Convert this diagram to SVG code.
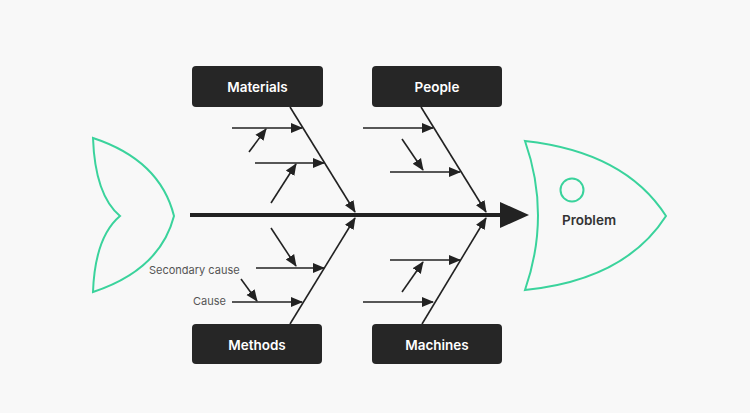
<svg xmlns="http://www.w3.org/2000/svg" width="750" height="413" viewBox="0 0 750 413">
<style>
.box{fill:#262626;}
.lbl{font-family:"Inter","Liberation Sans",sans-serif;font-weight:600;font-size:13.5px;fill:#ffffff;text-anchor:middle;}
.note{font-family:"Inter","Liberation Sans",sans-serif;font-size:11px;fill:#555555;}
.fish{fill:none;stroke:#3ad39c;stroke-width:2;stroke-linejoin:miter;}
.ln{fill:none;stroke:#222222;stroke-width:1.6;marker-end:url(#ah);}
</style>
<defs>
<marker id="ah" markerUnits="userSpaceOnUse" markerWidth="12" markerHeight="12" viewBox="0 0 12 12" refX="11" refY="6" orient="auto">
<path d="M0,1 L12,6 L0,11 Z" fill="#222222"/>
</marker>
</defs>
<rect width="750" height="413" fill="#f8f8f8"/>
<g id="tail"><path class="fish" d="M93,138 Q160,160 174,216 Q160,270 93,292 Q95,237 120,216 Q95,195 93,138 Z"/></g>
<g id="head">
<path class="fish" d="M525,141 Q625,152 666,216 Q625,280 525,290 Q551,215 525,141 Z"/>
<circle cx="572" cy="190" r="11.5" class="fish"/>
<text x="589" y="225" font-family="Inter, 'Liberation Sans', sans-serif" font-weight="600" font-size="13.5" fill="#333333" text-anchor="middle">Problem</text>
</g>
<g id="connectors">
<line x1="190" y1="215" x2="502" y2="215" stroke="#222222" stroke-width="4"/>
<path d="M500,202 L529,215 L500,228 Z" fill="#222222"/>
<line class="ln" x1="290" y1="107" x2="355" y2="212"/>
<line class="ln" x1="421" y1="107" x2="486" y2="212"/>
<line class="ln" x1="290" y1="324" x2="355" y2="218"/>
<line class="ln" x1="422" y1="324" x2="486" y2="218"/>
<line class="ln" x1="232" y1="128" x2="302" y2="128"/>
<line class="ln" x1="255" y1="163" x2="324" y2="163"/>
<line class="ln" x1="249" y1="152" x2="266" y2="129"/>
<line class="ln" x1="271" y1="203" x2="296" y2="164"/>
<line class="ln" x1="363" y1="128" x2="433" y2="128"/>
<line class="ln" x1="390" y1="172" x2="460" y2="172"/>
<line class="ln" x1="402" y1="139" x2="423" y2="170"/>
<line class="ln" x1="256" y1="268" x2="324" y2="268"/>
<line class="ln" x1="232" y1="302" x2="302" y2="302"/>
<line class="ln" x1="271" y1="228" x2="296" y2="266"/>
<line class="ln" x1="241" y1="279" x2="257" y2="301"/>
<line class="ln" x1="390" y1="260" x2="460" y2="260"/>
<line class="ln" x1="363" y1="302" x2="433" y2="302"/>
<line class="ln" x1="402" y1="292" x2="423" y2="262"/>
</g>
<g id="materials"><rect class="box" x="192" y="66" width="131" height="41" rx="4"/><text class="lbl" x="257.5" y="92">Materials</text></g>
<g id="people"><rect class="box" x="372" y="66" width="130" height="41" rx="4"/><text class="lbl" x="437" y="92">People</text></g>
<g id="methods"><rect class="box" x="192" y="324" width="130" height="40" rx="4"/><text class="lbl" x="257" y="350">Methods</text></g>
<g id="machines"><rect class="box" x="372" y="324" width="130" height="40" rx="4"/><text class="lbl" x="437" y="350">Machines</text></g>
<g id="notes">
<text class="note" x="149" y="274">Secondary cause</text>
<text class="note" x="193" y="305">Cause</text>
</g>
</svg>
